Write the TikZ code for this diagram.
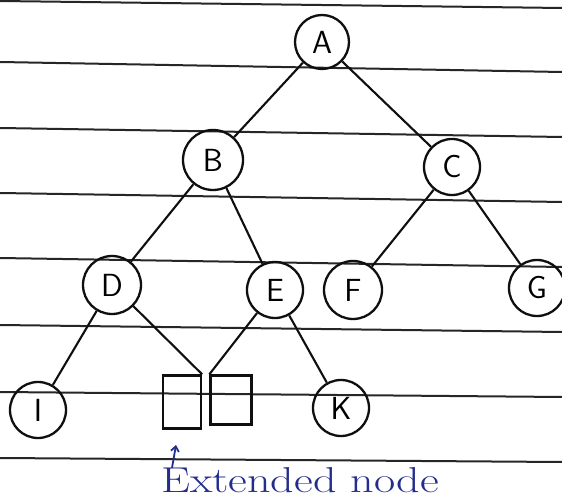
\documentclass[tikz,border=0pt]{standalone}
\usepackage{fontspec}
\usetikzlibrary{arrows.meta}
\definecolor{ink}{RGB}{15,15,15}
\definecolor{pen}{RGB}{35,45,140}
\begin{document}
\begin{tikzpicture}[x=1pt,y=-1pt,
  vertex/.style={draw=ink, circle, line width=2.3pt, minimum size=56pt, inner sep=0pt,
                 font=\sffamily\fontsize{32}{32}\selectfont},
  extnode/.style={draw=ink, rectangle, line width=2.3pt, inner sep=0pt},
  edge/.style={draw=ink, line width=2.1pt},
  ruling/.style={line width=2pt, black!85}]
\useasboundingbox (0,0) rectangle (562,502);
\fill[white] (0,0) rectangle (562,502);

% notebook ruling
\foreach \yl/\yr in {1/8, 62/72, 128/137, 193/202, 258/267, 325/332, 392/397, 458/462}
  \draw[ruling] (0,\yl) -- (562,\yr);

% tree nodes
\node[vertex, minimum size=54pt] (A) at (322,42) {A};
\node[vertex, minimum size=60pt] (B) at (213,160) {B};
\node[vertex] (C) at (452,167) {C};
\node[vertex, minimum size=58pt] (D) at (112,285) {D};
\node[vertex] (E) at (275,290) {E};
\node[vertex, minimum size=58pt] (F) at (353,290) {F};
\node[vertex] (G) at (537,288) {G};
\node[vertex] (I) at (38,410) {I};
\node[vertex] (K) at (341,408) {K};

% extended (empty) nodes
\node[extnode, minimum width=38pt, minimum height=53pt] (X1) at (182,402) {};
\node[extnode, minimum width=41pt, minimum height=49pt] (X2) at (231,400) {};

% branches
\draw[edge] (A) -- (B);
\draw[edge] (A) -- (C);
\draw[edge] (B) -- (D);
\draw[edge] (B) -- (E);
\draw[edge] (C) -- (F);
\draw[edge] (C) -- (G);
\draw[edge] (D) -- (I);
\draw[edge] (D) -- (X1.north east);
\draw[edge] (E) -- (X2.north west);
\draw[edge] (E) -- (K);

% annotation
\node[text=pen, font=\fontsize{36}{36}\selectfont, inner sep=0pt, xscale=1.28,
      anchor=base] (label) at (300,492) {Extended node};
\coordinate (tail) at (172,468);
\coordinate (tip) at (176,445);
\draw[pen, line width=1.8pt, -{Straight Barb[length=5pt,width=8pt]}] (tail) -- (tip);
\end{tikzpicture}
\end{document}
